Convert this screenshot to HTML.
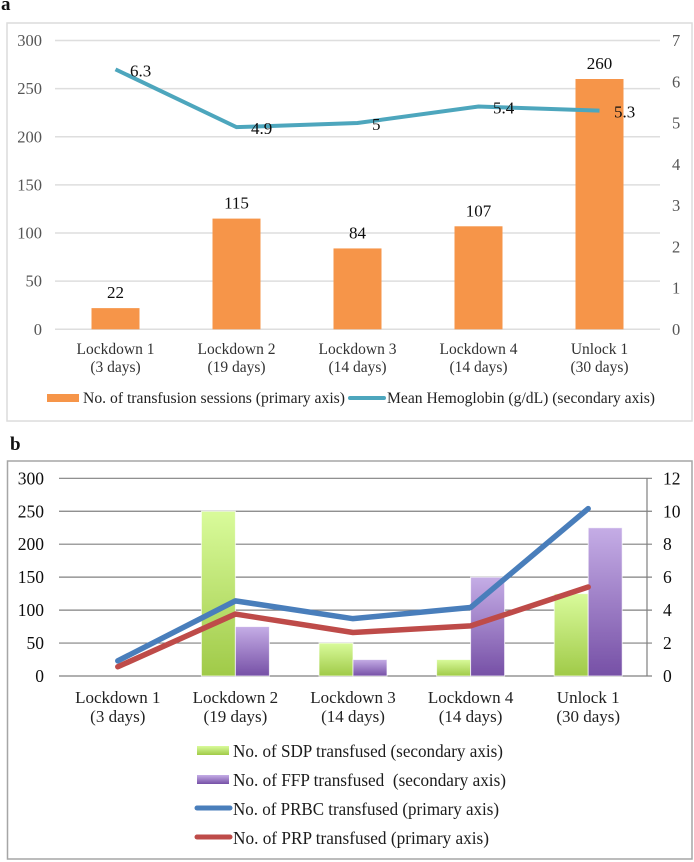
<!DOCTYPE html>
<html>
<head>
<meta charset="utf-8">
<title>Transfusion charts</title>
<style>
html,body{margin:0;padding:0;background:#fff;}
svg{display:block;}
text{font-family:"Liberation Serif",serif;}
</style>
</head>
<body>
<svg id="figure" width="694" height="862" viewBox="0 0 694 862" xmlns="http://www.w3.org/2000/svg">
<defs>
<linearGradient id="greenGrad" x1="0" y1="0" x2="0" y2="1"><stop offset="0" stop-color="#d9fb9b"/><stop offset="1" stop-color="#a0ca48"/></linearGradient>
<linearGradient id="purpleGrad" x1="0" y1="0" x2="0" y2="1"><stop offset="0" stop-color="#c5ade6"/><stop offset="1" stop-color="#7650a6"/></linearGradient>
<filter id="soft" x="-5%" y="-5%" width="110%" height="110%"><feGaussianBlur stdDeviation="0.35"/></filter>
</defs>
<text x="1" y="10" font-size="19" font-weight="bold" fill="#111">a</text>
<text x="10" y="450" font-size="19" font-weight="bold" fill="#111">b</text>
<rect x="7" y="23" width="685" height="398" fill="#fff" stroke="#dcdcdc" stroke-width="1.5"/>
<rect x="7.5" y="461" width="684.5" height="398" fill="#fff" stroke="#a6a6a6" stroke-width="1.5"/>
<g id="chartA" filter="url(#soft)"></g>
<g id="chartB" filter="url(#soft)"></g>

<g filter="url(#soft)">
<rect x="47" y="394" width="32" height="8" fill="#f6954a"/>
<text x="83" y="403" font-size="16" fill="#222" textLength="262" lengthAdjust="spacingAndGlyphs">No. of transfusion sessions (primary axis)</text>
<line x1="350" y1="398" x2="384" y2="398" stroke="#4ea6bd" stroke-width="4" stroke-linecap="round"/>
<text x="387" y="403" font-size="16" fill="#222" textLength="268" lengthAdjust="spacingAndGlyphs">Mean Hemoglobin (g/dL) (secondary axis)</text>
</g>

<g filter="url(#soft)">
<rect x="197" y="746" width="32" height="9" fill="url(#greenGrad)"/>
<text x="233" y="757" font-size="17.5" fill="#1a1a1a" textLength="270" lengthAdjust="spacingAndGlyphs">No. of SDP transfused (secondary axis)</text>
<rect x="197" y="775" width="32" height="9" fill="url(#purpleGrad)"/>
<text x="233" y="786" font-size="17.5" fill="#1a1a1a" textLength="273" lengthAdjust="spacingAndGlyphs" xml:space="preserve">No. of FFP transfused  (secondary axis)</text>
<line x1="197" y1="808" x2="230" y2="808" stroke="#4a7ebb" stroke-width="5" stroke-linecap="round"/>
<text x="233" y="815" font-size="17.5" fill="#1a1a1a" textLength="266" lengthAdjust="spacingAndGlyphs">No. of PRBC transfused (primary axis)</text>
<line x1="197" y1="837" x2="230" y2="837" stroke="#be4b48" stroke-width="5" stroke-linecap="round"/>
<text x="233" y="844" font-size="17.5" fill="#1a1a1a" textLength="256" lengthAdjust="spacingAndGlyphs">No. of PRP transfused (primary axis)</text>
</g>
</svg>
<script>
var categoriesLine1 = ["Lockdown 1", "Lockdown 2", "Lockdown 3", "Lockdown 4", "Unlock 1"];
var categoriesLine2 = ["(3 days)", "(19 days)", "(14 days)", "(14 days)", "(30 days)"];

var sessionsValues = [22, 115, 84, 107, 260];
var hemoglobinValues = [6.3, 4.9, 5, 5.4, 5.3];
var chartAPrimaryTicks = [0, 50, 100, 150, 200, 250, 300];
var chartASecondaryTicks = [0, 1, 2, 3, 4, 5, 6, 7];

var sdpValues = [0, 10, 2, 1, 5];
var ffpValues = [0, 3, 1, 6, 9];
var prbcValues = [23, 114, 87, 104, 254];
var prpValues = [14, 94, 66, 76, 135];
var chartBPrimaryTicks = [0, 50, 100, 150, 200, 250, 300];
var chartBSecondaryTicks = [0, 2, 4, 6, 8, 10, 12];

var SVG_NS = "http://www.w3.org/2000/svg";

function make(parent, tag, attrs, content) {
  var el = document.createElementNS(SVG_NS, tag);
  for (var k in attrs) { el.setAttribute(k, attrs[k]); }
  if (content !== undefined) { el.textContent = content; }
  parent.appendChild(el);
  return el;
}

function linePoints(values, xFn, yFn) {
  return values.map(function (v, i) { return xFn(i) + "," + yFn(v); }).join(" ");
}

/* ---------- Chart A ---------- */
(function () {
  var g = document.getElementById("chartA");
  var left = 55, right = 660, top = 40.5, bottom = 329.3;
  var priMax = chartAPrimaryTicks[chartAPrimaryTicks.length - 1];
  var secMax = chartASecondaryTicks[chartASecondaryTicks.length - 1];
  var band = (right - left) / categoriesLine1.length;
  var barW = 48;
  function x(i) { return left + band * (i + 0.5); }
  function yP(v) { return bottom - (v / priMax) * (bottom - top); }
  function yS(v) { return bottom - (v / secMax) * (bottom - top); }

  chartAPrimaryTicks.forEach(function (t) {
    var gl = make(g, "line", { x1: left, x2: right, y1: yP(t), y2: yP(t), stroke: "#dedede", "stroke-width": 1.5 });
    
    
    var lb = make(g, "text", { x: 42, y: yP(t) + 5.5, "text-anchor": "end", "font-size": 16.5, fill: "#555" }, String(t));
    
    
  });
  chartASecondaryTicks.forEach(function (t) {
    var lb = make(g, "text", { x: 672, y: yS(t) + 5.5, "font-size": 16.5, fill: "#555" }, String(t));
    
    
  });
  sessionsValues.forEach(function (v, i) {
    var b = make(g, "rect", { x: x(i) - barW / 2, y: yP(v), width: barW, height: bottom - yP(v), fill: "#f6954a" });
    
    
  });
  var ln = make(g, "polyline", { points: linePoints(hemoglobinValues, x, yS), fill: "none", stroke: "#4ea6bd", "stroke-width": 4, "stroke-linejoin": "miter" });
  
  
  sessionsValues.forEach(function (v, i) {
    var t = make(g, "text", { x: x(i), y: yP(v) - 10, "text-anchor": "middle", "font-size": 17, fill: "#111" }, String(v));
    
    
  });
  hemoglobinValues.forEach(function (v, i) {
    var t = make(g, "text", { x: x(i) + 14.5, y: yS(v) + 7, "font-size": 17, fill: "#111" }, String(v));
    
    
  });
  categoriesLine1.forEach(function (c, i) {
    var a = make(g, "text", { x: x(i), y: 354, "text-anchor": "middle", "font-size": 15.5, fill: "#333" }, c);
    
    
    var b = make(g, "text", { x: x(i), y: 372, "text-anchor": "middle", "font-size": 15.5, fill: "#333" }, categoriesLine2[i]);
    
    
  });
})();

/* ---------- Chart B ---------- */
(function () {
  var g = document.getElementById("chartB");
  var left = 59, right = 647, top = 478.3, bottom = 676;
  var priMax = chartBPrimaryTicks[chartBPrimaryTicks.length - 1];
  var secMax = chartBSecondaryTicks[chartBSecondaryTicks.length - 1];
  var band = (right - left) / categoriesLine1.length;
  var barW = 34;
  function x(i) { return left + band * (i + 0.5); }
  function yP(v) { return bottom - (v / priMax) * (bottom - top); }
  function yS(v) { return bottom - (v / secMax) * (bottom - top); }

  chartBPrimaryTicks.forEach(function (t) {
    var gl = make(g, "line", { x1: left, x2: right + 5, y1: yP(t), y2: yP(t), stroke: "#808080", "stroke-width": 1.2 });
    
    
    var lb = make(g, "text", { x: 44, y: yP(t) + 6, "text-anchor": "end", "font-size": 17.5, fill: "#111" }, String(t));
    
    
  });
  var ax = make(g, "line", { x1: right, x2: right, y1: top, y2: bottom, stroke: "#808080", "stroke-width": 1.2 });
  
  
  chartBSecondaryTicks.forEach(function (t) {
    var lb = make(g, "text", { x: 663, y: yS(t) + 6, "font-size": 17.5, fill: "#111" }, String(t));
    
    
  });
  sdpValues.forEach(function (v, i) {
    if (v <= 0) { return; }
    var h = bottom - yS(v);
    var b = make(g, "rect", { x: x(i) - barW, y: yS(v), width: barW, height: h, fill: "url(#greenGrad)", stroke: "#fff", "stroke-opacity": 0.7, "stroke-width": 1 });
    
    
  });
  ffpValues.forEach(function (v, i) {
    if (v <= 0) { return; }
    var h = bottom - yS(v);
    var b = make(g, "rect", { x: x(i), y: yS(v), width: barW, height: h, fill: "url(#purpleGrad)", stroke: "#fff", "stroke-opacity": 0.7, "stroke-width": 1 });
    
    
  });
  var prp = make(g, "polyline", { points: linePoints(prpValues, x, yP), fill: "none", stroke: "#be4b48", "stroke-width": 5.5, "stroke-linecap": "round", "stroke-linejoin": "round" });
  
  
  var prbc = make(g, "polyline", { points: linePoints(prbcValues, x, yP), fill: "none", stroke: "#4a7ebb", "stroke-width": 5.5, "stroke-linecap": "round", "stroke-linejoin": "round" });
  
  
  categoriesLine1.forEach(function (c, i) {
    var a = make(g, "text", { x: x(i), y: 703, "text-anchor": "middle", "font-size": 17, fill: "#222" }, c);
    
    
    var b = make(g, "text", { x: x(i), y: 722, "text-anchor": "middle", "font-size": 17, fill: "#222" }, categoriesLine2[i]);
    
    
  });
})();
</script>
</body>
</html>
